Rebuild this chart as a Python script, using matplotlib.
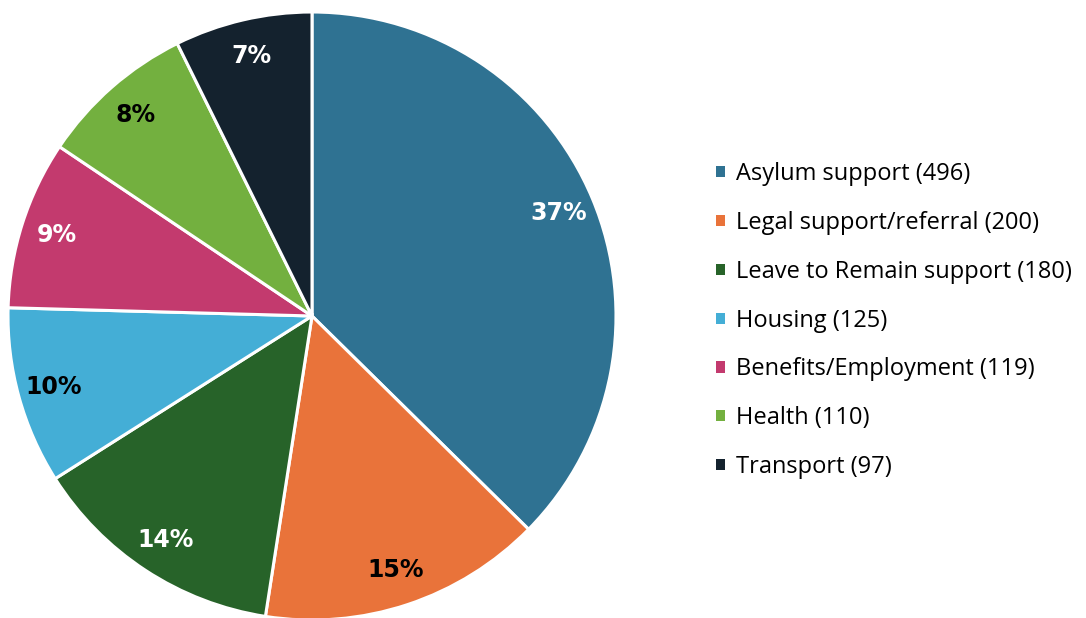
"""
Pie chart of support requests by category, with a count legend on the right.
"""

import numpy as np
import matplotlib.pyplot as plt

categories = [
    "Asylum support",
    "Legal support/referral",
    "Leave to Remain support",
    "Housing",
    "Benefits/Employment",
    "Health",
    "Transport",
]
counts = [496, 200, 180, 125, 119, 110, 97]
pct_labels = ["37%", "15%", "14%", "10%", "9%", "8%", "7%"]

colors = ["#2f7292", "#e9733a", "#276329", "#44aed6", "#c33a6e", "#73b03f", "#14222e"]
label_colors = ["white", "black", "white", "black", "white", "black", "white"]

fig = plt.figure(figsize=(10.86, 6.18), dpi=100)
W, H = 1086, 618

# pie axes: square box in pixel space, bottom slightly below the figure edge
left, top, size = 8, 12, 608
ax = fig.add_axes([left / W, (H - top - size) / H, size / W, size / H])

wedges, _ = ax.pie(
    counts,
    colors=colors,
    startangle=90,
    counterclock=False,
    radius=1.0,
    wedgeprops=dict(edgecolor="white", linewidth=2.2),
)
ax.set_xlim(-1, 1)
ax.set_ylim(-1, 1)
ax.set_aspect("equal")
ax.axis("off")

# percentage labels near the outer edge of each wedge
for w, txt, col in zip(wedges, pct_labels, label_colors):
    ang = np.deg2rad((w.theta1 + w.theta2) / 2)
    ax.text(0.88 * np.cos(ang), 0.88 * np.sin(ang), txt,
            ha="center", va="center", color=col,
            fontsize=17, fontweight="bold", family="DejaVu Sans")

legend_labels = [f"{c} ({n})" for c, n in zip(categories, counts)]
leg = fig.legend(
    wedges, legend_labels,
    loc="upper left", bbox_to_anchor=(695 / W, 1 - 141 / H),
    frameon=False,
    handlelength=0.35, handleheight=0.35, handletextpad=0.5,
    labelspacing=1.05,
    prop={"family": "Open Sans", "size": 17},
)
for h in leg.legend_handles:
    h.set_edgecolor("none")

fig.savefig("out.png", dpi=100, facecolor="white")
